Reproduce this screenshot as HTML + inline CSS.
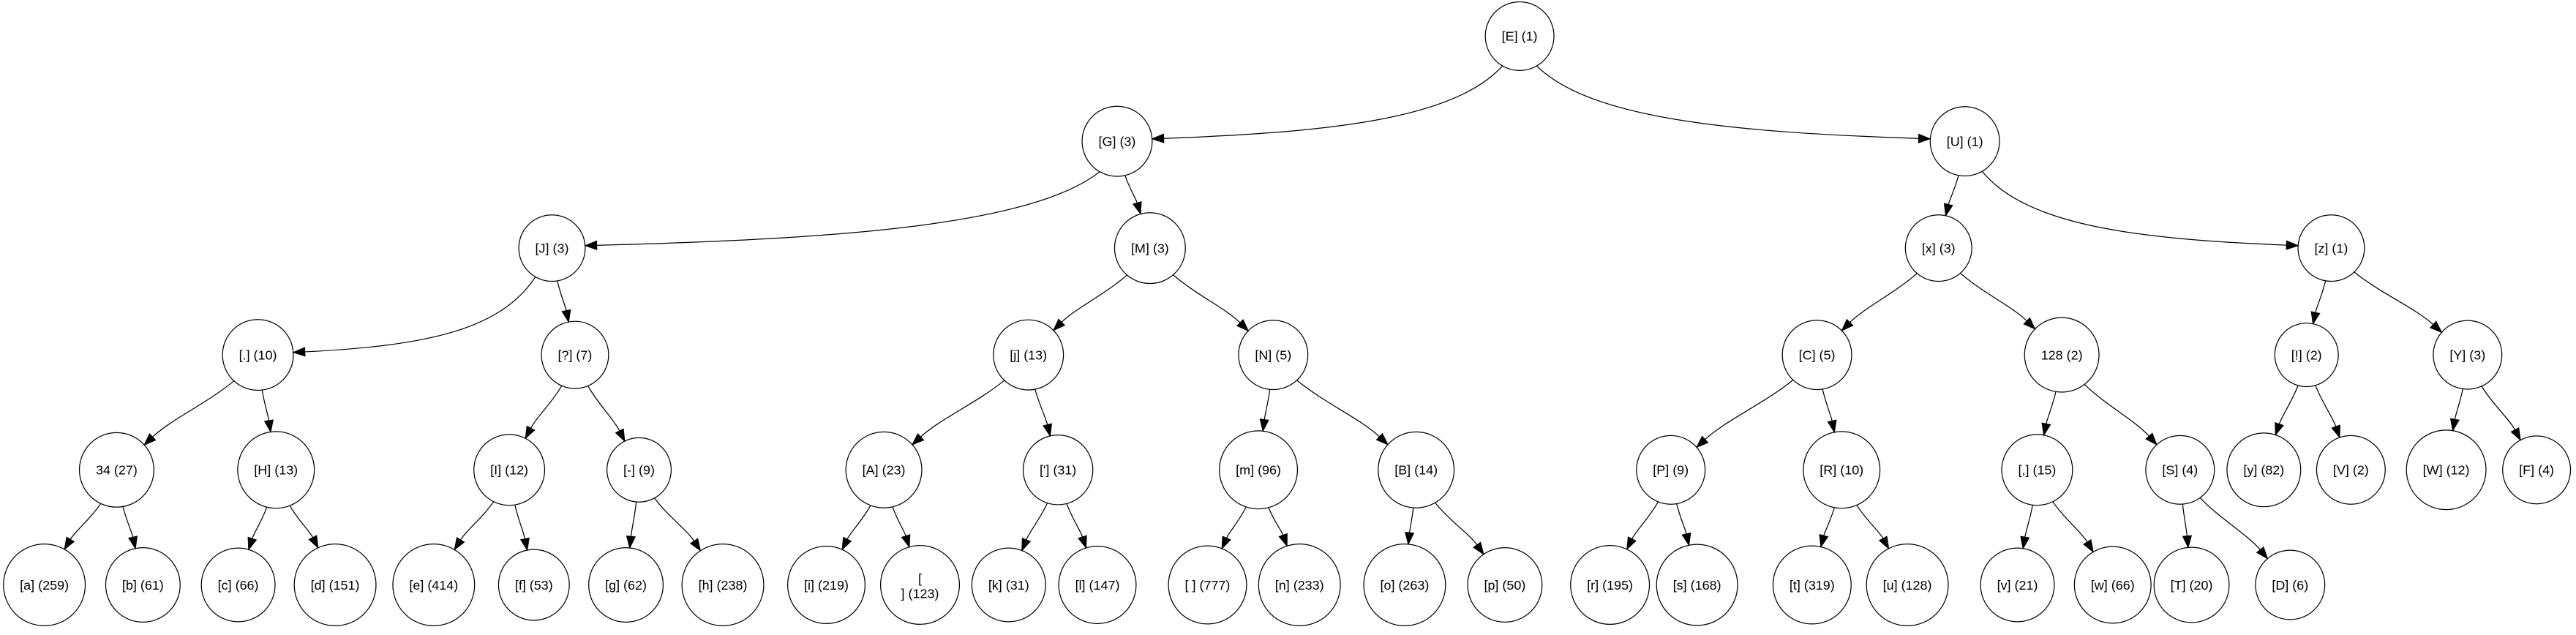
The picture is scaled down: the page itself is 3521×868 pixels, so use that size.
<!DOCTYPE html>
<html><head><meta charset="utf-8"><style>
html,body{margin:0;padding:0;background:#fff;}
svg{display:block;}
text{font-family:"Liberation Sans",sans-serif;font-size:8px;fill:#000;}
</style></head><body>
<svg id="s" width="3521" height="868" viewBox="0 0 1568 386.5" preserveAspectRatio="none" xmlns="http://www.w3.org/2000/svg"></svg>
<script>
var N={
E:[925,22,"[E] (1)"],G:[680,86,"[G] (3)"],U:[1196,86,"[U] (1)"],
J:[336,151,"[J] (3)"],M:[700,151,"[M] (3)"],x:[1180,151,"[x] (3)"],z:[1419,151,"[z] (1)"],
dot:[157,216,"[.] (10)"],q:[350,216,"[?] (7)"],j:[626,216,"[j] (13)"],Nn:[775,216,"[N] (5)"],C:[1106,216,"[C] (5)"],
n128:[1255,216,"128 (2)"],ex:[1404,216,"[!] (2)"],Y:[1502,216,"[Y] (3)"],
n34:[71,286,"34 (27)"],H:[168,286,"[H] (13)"],I:[310,286,"[I] (12)"],dash:[389,286,"[-] (9)"],A:[538,286,"[A] (23)"],
ap:[644,286,"['] (31)"],m:[766,286,"[m] (96)"],B:[862,286,"[B] (14)"],P:[1017,286,"[P] (9)"],R:[1121,286,"[R] (10)"],
com:[1240,286,"[,] (15)"],S:[1327,286,"[S] (4)"],yy:[1378,286,"[y] (82)"],V:[1431,286,"[V] (2)"],W:[1489,286,"[W] (12)"],F:[1544,286,"[F] (4)"],
a:[27,356,"[a] (259)"],b:[87,356,"[b] (61)"],c:[145,356,"[c] (66)"],d:[204,356,"[d] (151)"],e:[264,356,"[e] (414)"],f:[325,356,"[f] (53)"],
g:[381,356,"[g] (62)"],h:[440,356,"[h] (238)"],i:[503,356,"[i] (219)"],nl:[560,356,"[|] (123)"],k:[614,356,"[k] (31)"],l:[668,356,"[l] (147)"],
sp:[735,356,"[ ] (777)"],n:[791,356,"[n] (233)"],o:[855,356,"[o] (263)"],p:[916,356,"[p] (50)"],r:[980,356,"[r] (195)"],s:[1033,356,"[s] (168)"],
t:[1103,356,"[t] (319)"],u:[1161,356,"[u] (128)"],v:[1228,356,"[v] (21)"],w:[1286,356,"[w] (66)"],T:[1334,356,"[T] (20)"],D:[1394,356,"[D] (6)"]};
var Ed=[["E","G"],["E","U"],["G","J"],["G","M"],["U","x"],["U","z"],["J","dot"],["J","q"],["M","j"],["M","Nn"],["x","C"],["x","n128"],["z","ex"],["z","Y"],
["dot","n34"],["dot","H"],["q","I"],["q","dash"],["j","A"],["j","ap"],["Nn","m"],["Nn","B"],["C","P"],["C","R"],["n128","com"],["n128","S"],["ex","yy"],["ex","V"],["Y","W"],["Y","F"],
["n34","a"],["n34","b"],["H","c"],["H","d"],["I","e"],["I","f"],["dash","g"],["dash","h"],["A","i"],["A","nl"],["ap","k"],["ap","l"],["m","sp"],["m","n"],["B","o"],["B","p"],
["P","r"],["P","s"],["R","t"],["R","u"],["com","v"],["com","w"],["S","T"],["S","D"]];
var svg=document.getElementById("s"),NS="http://www.w3.org/2000/svg",out="";
function tw(t){var e=document.createElementNS(NS,"text");e.textContent=t;svg.appendChild(e);var w=e.getComputedTextLength();svg.removeChild(e);return w;}
for(var k in N){var v=N[k];if(k=="nl"){v[3]=24;}else{v[3]=Math.max(18.5,tw(v[2])/2+10);}}
function f(n){return n.toFixed(2);}
Ed.forEach(function(e){var P=N[e[0]],Q=N[e[1]];var dx=Q[0]-P[0],dy=Q[1]-P[1],s=dx<0?-1:1,p0,p3,c1,c2;
 if(Math.abs(dx)>1.6*dy){p0=[P[0]+s*P[3]*0.5,P[1]+P[3]*0.87];p3=[Q[0]-s*Q[3],Q[1]-1.5];
  c1=[p0[0]+s*Math.abs(dx)*0.12,p0[1]+dy*0.5];c2=[p3[0]-s*Math.abs(dx)*0.45,p3[1]-4];}
 else{var a=Math.atan2(dy,dx*0.75);p0=[P[0]+P[3]*Math.cos(a),P[1]+P[3]*Math.sin(a)];
  var b=Math.atan2(-dy,-dx*0.9);p3=[Q[0]+Q[3]*Math.cos(b),Q[1]+Q[3]*Math.sin(b)];
  c1=[p0[0]+(p3[0]-p0[0])*0.3,p0[1]+(p3[1]-p0[1])*0.35];c2=[p3[0]-(p3[0]-p0[0])*0.3,p3[1]-(p3[1]-p0[1])*0.4];}
 var ux=p3[0]-c2[0],uy=p3[1]-c2[1],L=Math.hypot(ux,uy);ux/=L;uy/=L;var al=7,bx=p3[0]-ux*al,by=p3[1]-uy*al;
 out+='<path d="M'+f(p0[0])+','+f(p0[1])+' C'+f(c1[0])+','+f(c1[1])+' '+f(c2[0])+','+f(c2[1])+' '+f(bx)+','+f(by)+'" fill="none" stroke="#000" stroke-width="0.55"/>';
 out+='<polygon points="'+f(p3[0])+','+f(p3[1])+' '+f(bx-uy*2.6)+','+f(by+ux*2.6)+' '+f(bx+uy*2.6)+','+f(by-ux*2.6)+'" fill="#000" stroke="#000" stroke-width="0.5"/>';
});
for(var k in N){var v=N[k];out+='<circle cx="'+v[0]+'" cy="'+v[1]+'" r="'+f(v[3])+'" fill="none" stroke="#000" stroke-width="0.55"/>';
 if(k=="nl"){out+='<text x="'+v[0]+'" y="'+(v[1]-1)+'" text-anchor="middle">[</text><text x="'+v[0]+'" y="'+(v[1]+8)+'" text-anchor="middle">] (123)</text>';}
 else out+='<text x="'+v[0]+'" y="'+(v[1]+2.8)+'" text-anchor="middle">'+v[2].replace(/&/g,"&amp;").replace(/</g,"&lt;")+'</text>';}
svg.innerHTML=out;
</script>
</body></html>
